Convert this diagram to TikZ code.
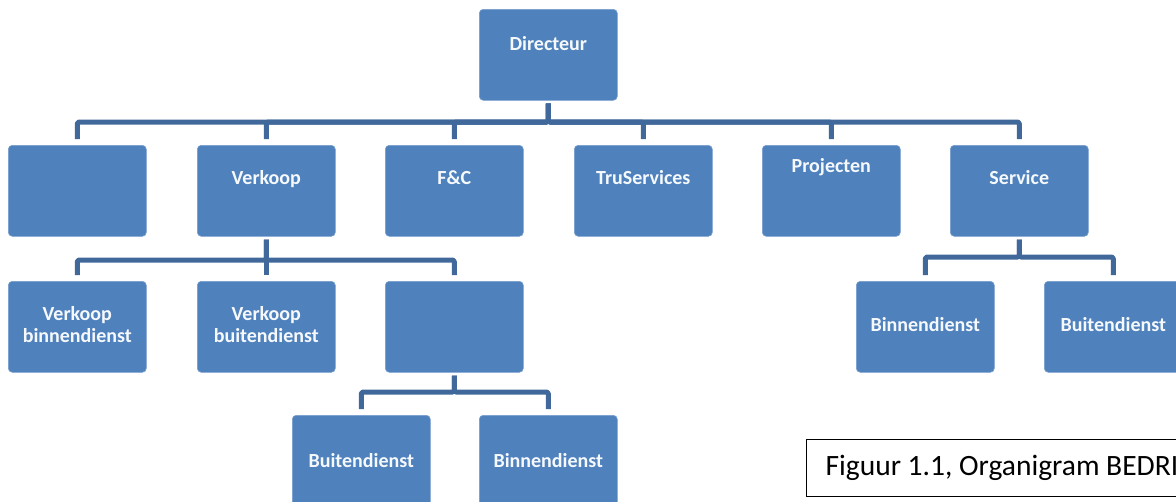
\documentclass[tikz,border=0pt]{standalone}
\usepackage{fontspec}
\setmainfont{Carlito}
\definecolor{boxblue}{RGB}{79,129,189}
\definecolor{boxrim}{RGB}{120,158,206}
\definecolor{linkblue}{RGB}{64,104,154}
\begin{document}
\begin{tikzpicture}[x=1pt,y=-1pt,
  unit/.style={fill=boxblue, draw=boxrim, line width=0.6pt, rounded corners=4pt,
    minimum width=138pt, minimum height=91pt, inner sep=0pt, text=white!95!boxblue,
    font=\fontsize{20}{23}\selectfont\bfseries, align=center, anchor=north west},
  link/.style={draw=linkblue, line width=5pt, line join=round, rounded corners=1.5pt},
  caption/.style={draw=black, line width=1.2pt, anchor=north west, minimum height=57pt,
    inner xsep=19pt, text=black, font=\fontsize{29.5}{33}\selectfont},
]
\useasboundingbox (0,0) rectangle (1176,501);
\clip (0,0) rectangle (1176,501);

% top level
\node[unit] (dir) at (479,9) {\raisebox{23pt}{Directeur}};

% departments
\node[unit] (d1) at (8,145) {};
\node[unit] (d2) at (197,145) {\raisebox{27pt}{Verkoop}};
\node[unit] (d3) at (385,145) {\raisebox{27pt}{F\&C}};
\node[unit] (d4) at (574,145) {\raisebox{27pt}{TruServices}};
\node[unit] (d5) at (762,145) {\raisebox{51pt}{Projecten}};
\node[unit] (d6) at (950,145) {\raisebox{27pt}{Service}};

% sales teams
\node[unit] (v1) at (8,281) {\raisebox{4pt}{\begin{tabular}{@{}c@{}}Verkoop\\[-1pt]binnendienst\end{tabular}}};
\node[unit] (v2) at (197,281) {\raisebox{4pt}{\begin{tabular}{@{}c@{}}Verkoop\\[-1pt]buitendienst\end{tabular}}};
\node[unit] (v3) at (385,281) {};

% service teams
\node[unit] (s1) at (856,281) {\raisebox{5pt}{Binnendienst}};
\node[unit] (s2) at (1044,281) {\raisebox{5pt}{Buitendienst}};

% third level
\node[unit] (w1) at (292,415) {Buitendienst};
\node[unit] (w2) at (479,415) {Binnendienst};

% bus lines
\coordinate (busA) at (0,122);
\coordinate (busB) at (0,260);
\coordinate (busC) at (0,257);
\coordinate (busD) at (0,392);

\foreach \c in {d1,d2,d3,d4,d5,d6}
  \draw[link] ([yshift=-3pt]dir.south) |- (\c.north |- busA) -- ([yshift=6pt]\c.north);
\foreach \c in {v1,v2,v3}
  \draw[link] ([yshift=-3pt]d2.south) |- (\c.north |- busB) -- ([yshift=6pt]\c.north);
\foreach \c in {s1,s2}
  \draw[link] ([yshift=-3pt]d6.south) |- (\c.north |- busC) -- ([yshift=6pt]\c.north);
\foreach \c in {w1,w2}
  \draw[link] ([yshift=-3pt]v3.south) |- (\c.north |- busD) -- ([yshift=6pt]\c.north);

% caption
\node[caption] (cap) at (806,439) {\raisebox{-7pt}{Figuur 1.1, Organigram BEDRI}};
\end{tikzpicture}
\end{document}
